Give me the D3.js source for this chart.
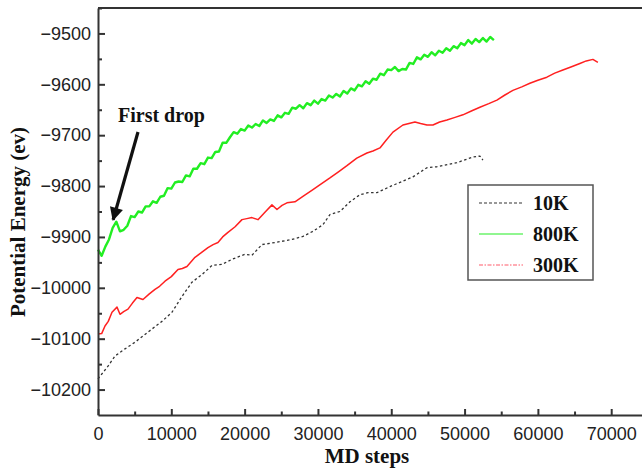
<!DOCTYPE html>
<html>
<head>
<meta charset="utf-8">
<script src="https://cdn.jsdelivr.net/npm/d3@7"></script>
<style>
  html, body { margin: 0; padding: 0; background: #fff; }
  svg { display: block; }
</style>
</head>
<body>
<svg id="chart"></svg>
<script>
// ---- data ----
const seriesNames = ["10K", "800K", "300K"];

// 10K curve: [MD step, potential energy]
const data10K = [
  [0, -10179], [1364, -10154], [2318, -10134], [3682, -10120], [5045, -10107],
  [6818, -10087], [8727, -10066], [10091, -10048], [11455, -10017], [12818, -9989],
  [14182, -9974], [15545, -9956], [16909, -9954], [18273, -9944], [20045, -9934],
  [21000, -9936], [22364, -9915], [24136, -9911], [26455, -9905], [27955, -9899],
  [29318, -9889], [30682, -9876], [31636, -9856], [33000, -9850], [34364, -9831],
  [35727, -9817], [36818, -9813], [38045, -9813], [39818, -9801], [42955, -9782],
  [44864, -9764], [46227, -9762], [48955, -9754], [51136, -9743], [52091, -9741],
  [52500, -9749]
];

// 800K curve: one reading every 500 steps
const steps800K = d3.range(0, 54001, 500);
const energy800K = [
  -9925, -9937, -9919, -9905, -9882, -9870, -9889, -9886, -9878, -9859,
  -9861, -9850, -9852, -9840, -9840, -9830, -9833, -9821, -9819, -9804,
  -9805, -9793, -9791, -9792, -9779, -9781, -9766, -9766, -9755, -9757,
  -9744, -9745, -9733, -9732, -9715, -9715, -9704, -9694, -9697, -9688,
  -9691, -9681, -9685, -9678, -9682, -9671, -9676, -9669, -9672, -9661,
  -9665, -9656, -9658, -9646, -9648, -9641, -9647, -9637, -9641, -9632,
  -9638, -9629, -9632, -9622, -9626, -9619, -9624, -9613, -9618, -9608,
  -9612, -9601, -9604, -9594, -9599, -9589, -9591, -9579, -9582, -9571,
  -9572, -9566, -9574, -9570, -9571, -9558, -9560, -9547, -9551, -9542,
  -9546, -9537, -9543, -9534, -9538, -9529, -9534, -9525, -9529, -9519,
  -9523, -9513, -9520, -9511, -9517, -9509, -9516, -9507, -9513
];
const data800K = steps800K.map((s, i) => [s, energy800K[i]]);

// 300K curve
const data300K = [
  [0, -10091], [500, -10090], [955, -10075], [1400, -10066], [1909, -10048],
  [2591, -10038], [3000, -10052], [3500, -10047], [4091, -10042], [4700, -10030],
  [5318, -10019], [6136, -10023], [7000, -10012], [7773, -10003], [8400, -9997],
  [9136, -9987], [10000, -9978], [10909, -9964], [11500, -9962], [12136, -9958],
  [13227, -9940], [14000, -9932], [15000, -9921], [15700, -9915], [16364, -9911],
  [17000, -9900], [17727, -9891], [18700, -9880], [19636, -9866], [20300, -9864],
  [21000, -9862], [21818, -9866], [22800, -9851], [23727, -9837], [24409, -9846],
  [25100, -9838], [25773, -9833], [26864, -9831], [28000, -9820], [29318, -9807],
  [30300, -9797], [31636, -9784], [32800, -9772], [33955, -9760], [35300, -9745],
  [36682, -9735], [37500, -9731], [38455, -9725], [39300, -9710], [40227, -9694],
  [41591, -9680], [43227, -9674], [44000, -9677], [44864, -9680], [45682, -9680],
  [46600, -9674], [47591, -9670], [48700, -9665], [49773, -9660], [51000, -9652],
  [52091, -9645], [53300, -9638], [54409, -9631], [55500, -9621], [56591, -9612],
  [57800, -9605], [58909, -9598], [60000, -9592], [61227, -9586], [62300, -9578],
  [63409, -9572], [64500, -9566], [65727, -9559], [66600, -9554], [67500, -9551],
  [68182, -9557]
];

// ticks
const xMajorTicks = [0, 10000, 20000, 30000, 40000, 50000, 60000, 70000];
const xMinorTicks = [5000, 15000, 25000, 35000, 45000, 55000, 65000];
const yMajorTicks = [-10200, -10100, -10000, -9900, -9800, -9700, -9600, -9500];
const yMinorTicks = [-10150, -10050, -9950, -9850, -9750, -9650, -9550, -9450];

// annotation
const annotationText = "First drop";
const annotationPoint = [2200, -9878];   // where the arrow points

// ---- layout ----
const width = 642;
const height = 468;
const margin = { top: 8, right: 0, bottom: 53, left: 98 };

const svg = d3.select("#chart")
    .attr("width", width)
    .attr("height", height);

const x = d3.scaleLinear()
    .domain([0, 74200])
    .range([margin.left, width - margin.right]);

const y = d3.scaleLinear()
    .domain([-10250, -9450])
    .range([height - margin.bottom, margin.top]);

const axisColor = "#333";
const tickFont = "'Liberation Sans', Arial, sans-serif";
const titleFont = "'Liberation Serif', 'Times New Roman', serif";

// ---- series ----
const line = d3.line().x(d => x(d[0])).y(d => y(d[1]));

const styles = {
    "10K":  { color: "#333", width: 1.3, dash: "2.5,2.5" },
    "800K": { color: "#22ee22", width: 2.4, dash: null },
    "300K": { color: "#ff2020", width: 1.5, dash: null }
};

const seriesData = { "10K": data10K, "800K": data800K, "300K": data300K };

seriesNames.forEach(name => {
    const st = styles[name];
    svg.append("path")
        .datum(seriesData[name])
        .attr("fill", "none")
        .attr("stroke", st.color)
        .attr("stroke-width", st.width)
        .attr("stroke-dasharray", st.dash)
        .attr("stroke-linejoin", "round")
        .attr("d", line);
});

// ---- axes ----
const xAxis = svg.append("g")
    .attr("transform", `translate(0, ${y.range()[0]})`)
    .call(d3.axisBottom(x).tickValues(xMajorTicks).tickFormat(d3.format("d"))
        .tickSizeInner(-6).tickSizeOuter(0).tickPadding(12));

svg.append("g")
    .attr("transform", `translate(0, ${y.range()[0]})`)
    .call(d3.axisBottom(x).tickValues(xMinorTicks).tickFormat("")
        .tickSizeInner(-3.5).tickSizeOuter(0))
    .call(g => g.select(".domain").remove());

const yAxis = svg.append("g")
    .attr("transform", `translate(${margin.left}, 0)`)
    .call(d3.axisLeft(y).tickValues(yMajorTicks).tickFormat(d3.format("d"))
        .tickSizeInner(-7).tickSizeOuter(0).tickPadding(7));

svg.append("g")
    .attr("transform", `translate(${margin.left}, 0)`)
    .call(d3.axisLeft(y).tickValues(yMinorTicks).tickFormat("")
        .tickSizeInner(-4).tickSizeOuter(0))
    .call(g => g.select(".domain").remove());

svg.selectAll(".domain, .tick line")
    .attr("stroke", axisColor)
    .attr("stroke-width", 2);

[xAxis, yAxis].forEach(g => g.selectAll("text")
    .attr("fill", "#222")
    .style("font-family", tickFont)
    .style("font-size", "18px"));

// top frame line
svg.append("line")
    .attr("x1", margin.left).attr("x2", width)
    .attr("y1", y.range()[1]).attr("y2", y.range()[1])
    .attr("stroke", axisColor)
    .attr("stroke-width", 2);

// ---- axis titles ----
svg.append("text")
    .attr("x", 367)
    .attr("y", 463)
    .attr("text-anchor", "middle")
    .style("font-family", titleFont)
    .style("font-weight", "bold")
    .style("font-size", "21px")
    .attr("fill", "#111")
    .text("MD steps");

svg.append("text")
    .attr("transform", "translate(25, 222) rotate(-90)")
    .attr("text-anchor", "middle")
    .style("font-family", titleFont)
    .style("font-weight", "bold")
    .style("font-size", "21px")
    .attr("fill", "#111")
    .text("Potential Energy (ev)");

// ---- annotation ----
svg.append("text")
    .attr("x", 118)
    .attr("y", 122)
    .style("font-family", titleFont)
    .style("font-weight", "bold")
    .style("font-size", "20px")
    .attr("fill", "#111")
    .text(annotationText);

svg.append("defs").append("marker")
    .attr("id", "arrowhead")
    .attr("viewBox", "0 0 10 10")
    .attr("refX", 9).attr("refY", 5)
    .attr("markerWidth", 5.2).attr("markerHeight", 4.2)
    .attr("orient", "auto")
    .append("path")
    .attr("d", "M0,0 L10,5 L0,10 Z")
    .attr("fill", "#111");

svg.append("line")
    .attr("x1", 138).attr("y1", 132)
    .attr("x2", x(annotationPoint[0]) - 1).attr("y2", y(annotationPoint[1]) - 6)
    .attr("stroke", "#111")
    .attr("stroke-width", 3.2)
    .attr("marker-end", "url(#arrowhead)");

// ---- legend ----
const legend = svg.append("g").attr("transform", "translate(468, 185)");

legend.append("rect")
    .attr("width", 125)
    .attr("height", 95)
    .attr("fill", "#fff")
    .attr("stroke", "#555")
    .attr("stroke-width", 1.5);

const legendItems = legend.selectAll(".legend-item")
    .data(seriesNames)
    .join("g")
    .attr("transform", (d, i) => `translate(0, ${18 + i * 31})`);

legendItems.append("line")
    .attr("x1", 11).attr("x2", 55)
    .attr("stroke", d => d === "300K" ? "#ff5a6a" : styles[d].color)
    .attr("stroke-width", 1.2)
    .attr("stroke-dasharray", d => d === "10K" ? "3,2" : d === "300K" ? "4,1.5,1.5,1.5" : null);

legendItems.append("text")
    .attr("x", 65)
    .attr("y", 7)
    .style("font-family", titleFont)
    .style("font-weight", "bold")
    .style("font-size", "20px")
    .attr("fill", "#111")
    .text(d => d);
</script>
</body>
</html>
